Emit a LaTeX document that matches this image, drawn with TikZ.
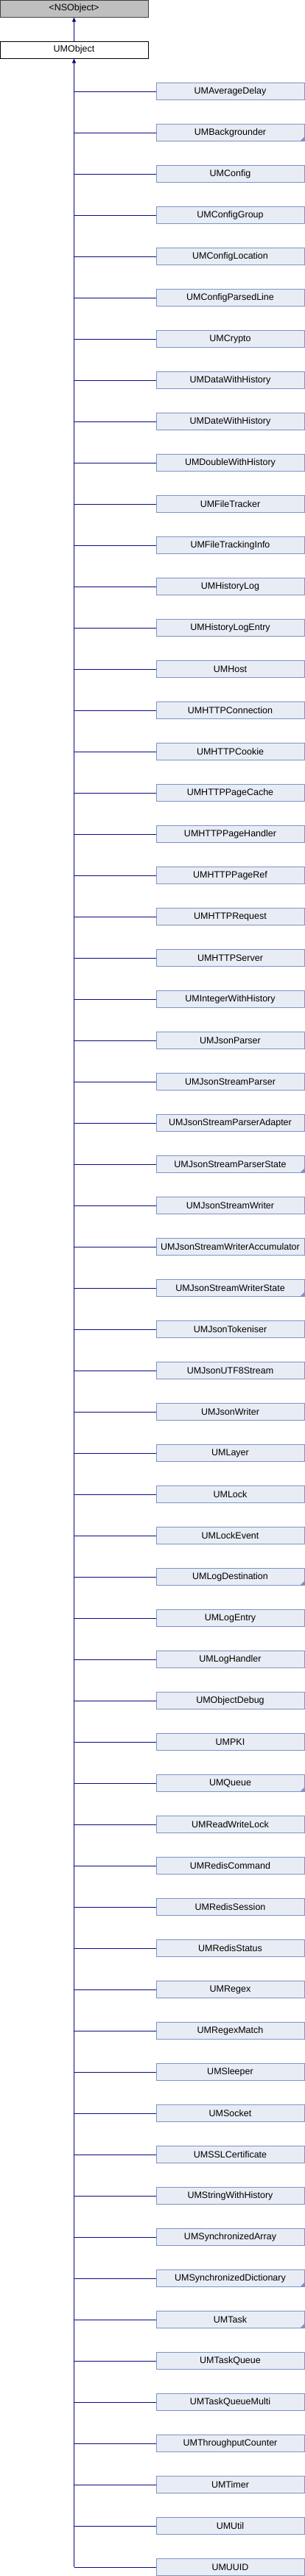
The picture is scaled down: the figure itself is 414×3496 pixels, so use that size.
\documentclass[tikz,border=0pt]{standalone}
\usepackage{fontspec}
\setmainfont{Liberation Sans}
\usetikzlibrary{arrows.meta}
\definecolor{childfill}{RGB}{232,236,245}
\definecolor{childdraw}{RGB}{124,148,198}
\definecolor{edgecol}{RGB}{10,10,130}
\definecolor{rootfill}{RGB}{191,191,191}
\begin{document}
\begin{tikzpicture}[x=1pt,y=-1pt,
  box/.style={rectangle, minimum width=201pt, minimum height=23pt, inner sep=0pt,
    font=\fontsize{12.5}{14}\selectfont, line width=1pt},
  rootbox/.style={box, draw=black!75, fill=rootfill},
  objbox/.style={box, draw=black, fill=white},
  childbox/.style={box, draw=childdraw, fill=childfill},
  edgeline/.style={draw=edgecol, line width=1.1pt},
  inh/.style={edgeline, -{Triangle[width=5pt,length=6pt]}},
  cornermark/.style={fill=childdraw}]
\useasboundingbox (0,0) rectangle (414,3496);
\node[rootbox] (root) at (100.5,11.5) {<NSObject>};
\node[objbox] (obj) at (100.5,67.5) {UMObject};
\draw[inh] (obj.north) -- (root.south);
\foreach \nm [count=\k] in {UMAverageDelay,UMBackgrounder,UMConfig,UMConfigGroup,UMConfigLocation,UMConfigParsedLine,UMCrypto,UMDataWithHistory,UMDateWithHistory,UMDoubleWithHistory,UMFileTracker,UMFileTrackingInfo,UMHistoryLog,UMHistoryLogEntry,UMHost,UMHTTPConnection,UMHTTPCookie,UMHTTPPageCache,UMHTTPPageHandler,UMHTTPPageRef,UMHTTPRequest,UMHTTPServer,UMIntegerWithHistory,UMJsonParser,UMJsonStreamParser,UMJsonStreamParserAdapter,UMJsonStreamParserState,UMJsonStreamWriter,UMJsonStreamWriterAccumulator,UMJsonStreamWriterState,UMJsonTokeniser,UMJsonUTF8Stream,UMJsonWriter,UMLayer,UMLock,UMLockEvent,UMLogDestination,UMLogEntry,UMLogHandler,UMObjectDebug,UMPKI,UMQueue,UMReadWriteLock,UMRedisCommand,UMRedisSession,UMRedisStatus,UMRegex,UMRegexMatch,UMSleeper,UMSocket,UMSSLCertificate,UMStringWithHistory,UMSynchronizedArray,UMSynchronizedDictionary,UMTask,UMTaskQueue,UMTaskQueueMulti,UMThroughputCounter,UMTimer,UMUtil,UMUUID}{
  \node[childbox] (c\k) at (312.5,{124.3+56*(\k-1)}) {\nm};
  \coordinate (j\k) at (obj.south |- c\k.west);
  \draw[edgeline] (j\k) -- (c\k.west);
}
\foreach \k in {2,27,30,37,42,54,55}{
  \fill[cornermark] ([shift={(-0.5,-0.5)}]c\k.south east) -- ++(-6,0) -- ++(6,-6) -- cycle;
}
\draw[inh] (j61) -- (obj.south);
\end{tikzpicture}
\end{document}
